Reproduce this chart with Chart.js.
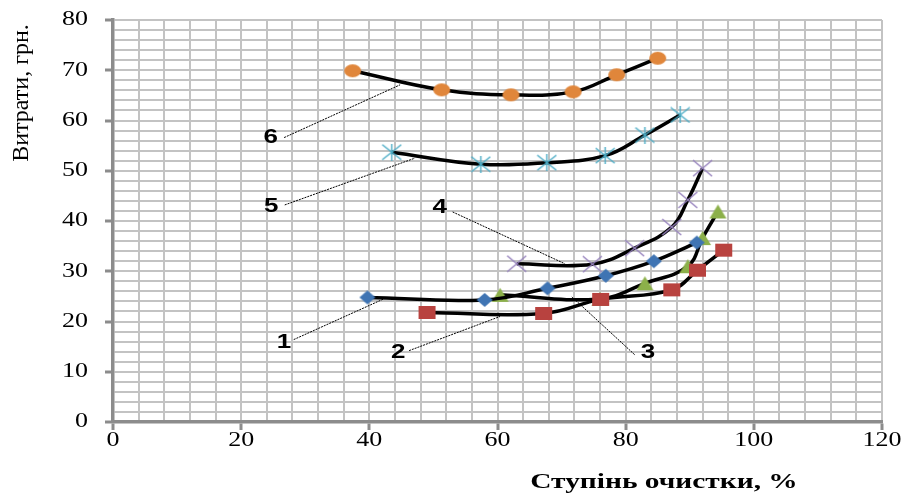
<!DOCTYPE html>
<html>
<head>
<meta charset="utf-8">
<script src="https://cdn.jsdelivr.net/npm/chart.js@4/dist/chart.umd.min.js"></script>
<style>
  body { margin: 0; background: #fff; }
  #box { width: 904px; height: 498px; }
</style>
</head>
<body>
<div id="box"><canvas id="myChart" width="904" height="498"></canvas></div>
<script>
// curve 1 .. 6
const x1 = [39.7, 58.0, 67.8, 76.9, 84.4, 91.1];
const y1 = [24.8, 24.3, 26.6, 29.1, 32.0, 35.7];
const x2 = [49.0, 67.2, 76.1, 87.2, 91.2, 95.3];
const y2 = [21.8, 21.6, 24.4, 26.3, 30.2, 34.2];
const x3 = [60.4, 76.0, 83.0, 89.7, 92.0, 94.4];
const y3 = [25.3, 24.5, 27.6, 31.0, 36.6, 41.9];
const x4 = [63.0, 74.8, 81.4, 87.2, 89.7, 92.0];
const y4 = [31.5, 31.4, 34.6, 38.8, 44.2, 50.5];
const x5 = [43.5, 57.4, 67.7, 76.8, 83.0, 88.5];
const y5 = [53.7, 51.3, 51.6, 53.0, 57.1, 61.1];
const x6 = [37.4, 51.3, 62.1, 71.8, 78.6, 85.0];
const y6 = [69.9, 66.1, 65.1, 65.7, 69.1, 72.4];

const xTicks = [0, 20, 40, 60, 80, 100, 120];
const yTicks = [0, 10, 20, 30, 40, 50, 60, 70, 80];

// curve numbers: label position, then leader line start and end (data units)
const labelText = ['1', '2', '3', '4', '5', '6'];
const labelPos = [[26.7, 15.9], [44.5, 13.9], [83.5, 13.9], [51.0, 42.6], [24.7, 42.8], [24.6, 56.6]];
const leaderFrom = [[28.2, 16.4], [46.2, 14.2], [81.4, 13.4], [53.0, 41.8], [26.8, 43.2], [26.7, 56.6]];
const leaderTo = [[42.6, 24.7], [60.4, 21.0], [71.6, 24.9], [70.5, 31.5], [47.1, 52.5], [44.8, 67.1]];

// the original picture is a bit wider than tall, so text and markers get stretched
const stretch = 1.3;
const serif = '"Liberation Serif", "Times New Roman", serif';

function toPoints(xs, ys) {
    var pts = [];
    for (let i = 0; i < xs.length; i++) {
        pts.push({x: xs[i], y: ys[i]});
    }
    return pts;
}

// marker drawn on a little canvas
function makeMarker(kind, color, w, h) {
    var cv = document.createElement('canvas');
    cv.width = w + 2;
    cv.height = h + 2;
    var c = cv.getContext('2d');
    var cx = cv.width / 2, cy = cv.height / 2;
    c.fillStyle = color;
    c.strokeStyle = color;
    c.lineWidth = 1.4;
    c.beginPath();
    if (kind == 'ellipse') {
        c.ellipse(cx, cy, w / 2, h / 2, 0, 0, Math.PI * 2);
        c.fill();
    } else if (kind == 'diamond') {
        c.moveTo(cx, 1); c.lineTo(w + 1, cy); c.lineTo(cx, h + 1); c.lineTo(1, cy);
        c.closePath();
        c.fill();
    } else if (kind == 'square') {
        c.fillRect(1, 1, w, h);
    } else if (kind == 'triangle') {
        c.moveTo(cx, 1); c.lineTo(w + 1, h + 1); c.lineTo(1, h + 1);
        c.closePath();
        c.fill();
    } else {
        c.moveTo(1, 1); c.lineTo(w + 1, h + 1);
        c.moveTo(w + 1, 1); c.lineTo(1, h + 1);
        if (kind == 'star') {
            c.moveTo(cx, 0); c.lineTo(cx, h + 2);
        }
        c.stroke();
    }
    return cv;
}

function makeSet(xs, ys, marker) {
    return {
        data: toPoints(xs, ys),
        borderColor: '#000',
        borderWidth: 3.5,
        tension: 0.4,
        pointStyle: marker,
        pointRadius: 8,
    };
}

function wideText(c, text, x, y, align) {
    c.save();
    c.translate(x, y);
    c.scale(stretch, 1);
    c.textAlign = align;
    c.fillText(text, 0, 0);
    c.restore();
}

const gridGray = '#c3c3c3';
const axisGray = '#8c8c8c';

// tick labels, numbers with leader lines, and the two axis titles
const extras = {
    id: 'extras',
    afterDatasetsDraw(chart) {
        const c = chart.ctx;
        const sx = chart.scales.x;
        const sy = chart.scales.y;
        const x0 = sx.getPixelForValue(0);
        const y0 = sy.getPixelForValue(0);
        c.save();
        c.fillStyle = '#000';
        c.textBaseline = 'middle';
        c.font = '20px ' + serif;
        for (let v of xTicks) {
            wideText(c, String(v), sx.getPixelForValue(v), y0 + 19, 'center');
        }
        for (let v of yTicks) {
            wideText(c, String(v), x0 - 25, sy.getPixelForValue(v), 'right');
        }

        c.strokeStyle = '#000';
        c.lineWidth = 1;
        c.setLineDash([2, 1]);
        for (let i = 0; i < labelText.length; i++) {
            c.beginPath();
            c.moveTo(sx.getPixelForValue(leaderFrom[i][0]), sy.getPixelForValue(leaderFrom[i][1]));
            c.lineTo(sx.getPixelForValue(leaderTo[i][0]), sy.getPixelForValue(leaderTo[i][1]));
            c.stroke();
        }
        c.setLineDash([]);
        c.font = 'bold 20px "Liberation Sans", Arial, sans-serif';
        for (let i = 0; i < labelText.length; i++) {
            wideText(c, labelText[i], sx.getPixelForValue(labelPos[i][0]), sy.getPixelForValue(labelPos[i][1]), 'center');
        }

        c.font = 'bold 21px ' + serif;
        c.save();
        c.translate(664, 483);
        c.scale(1.4, 1);
        c.textAlign = 'center';
        c.fillText('Ступінь очистки, %', 0, 0);
        c.restore();

        c.translate(22, 93);
        c.rotate(-Math.PI / 2);
        c.font = '24px ' + serif;
        c.textAlign = 'center';
        c.fillText('Витрати, грн.', 0, 0);
        c.restore();
    }
};

const ctx = document.getElementById('myChart');

new Chart(ctx, {
    type: 'line',
    data: {
        datasets: [
            makeSet(x1, y1, makeMarker('diamond', '#3f74b3', 16, 14)),
            makeSet(x2, y2, makeMarker('square', '#b8423f', 17, 13)),
            makeSet(x3, y3, makeMarker('triangle', '#8cb04a', 17, 14)),
            makeSet(x4, y4, makeMarker('cross', '#9682bd', 19, 16)),
            makeSet(x5, y5, makeMarker('star', '#4bacc6', 19, 15)),
            makeSet(x6, y6, makeMarker('ellipse', '#e0863b', 17, 13)),
        ]
    },
    options: {
        responsive: false,
        animation: false,
        devicePixelRatio: 1,
        layout: {
            padding: {top: 20, right: 22, left: 0, bottom: 0}
        },
        plugins: {
            legend: { display: false },
            tooltip: { enabled: false },
        },
        scales: {
            x: {
                type: 'linear',
                min: 0,
                max: 120,
                afterFit: function(scale) { scale.height = 76; },
                afterBuildTicks: function(scale) {
                    var t = [];
                    for (let v = 0; v <= 120; v += 4) t.push({value: v});
                    scale.ticks = t;
                },
                ticks: { display: false, autoSkip: false },
                grid: {
                    color: gridGray,
                    lineWidth: 2,
                    tickLength: 8,
                    tickWidth: 3,
                    tickColor: function(c) { return c.tick && xTicks.includes(c.tick.value) ? axisGray : 'transparent'; }
                },
                border: { color: axisGray, width: 3.5 }
            },
            y: {
                min: 0,
                max: 80,
                afterFit: function(scale) { scale.width = 113; },
                afterBuildTicks: function(scale) {
                    var t = [];
                    for (let v = 0; v <= 80; v += 2) t.push({value: v});
                    scale.ticks = t;
                },
                ticks: { display: false, autoSkip: false },
                grid: {
                    color: gridGray,
                    lineWidth: 2,
                    tickLength: 8,
                    tickWidth: 3,
                    tickColor: function(c) { return c.tick && yTicks.includes(c.tick.value) ? axisGray : 'transparent'; }
                },
                border: { color: axisGray, width: 3.5 }
            }
        }
    },
    plugins: [extras]
});
</script>
</body>
</html>
